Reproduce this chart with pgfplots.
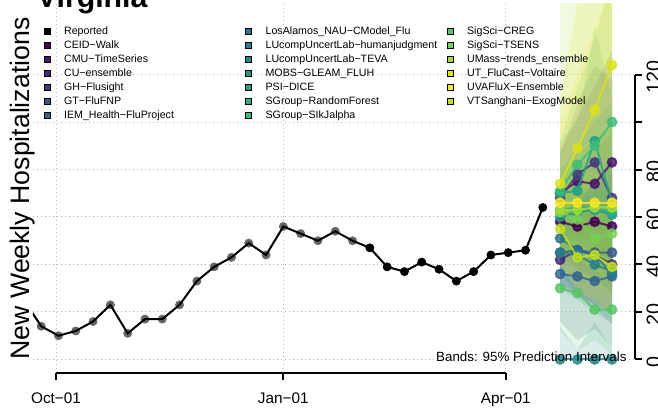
\documentclass[border=0pt]{standalone}
\usepackage{pgfplots}
\pgfplotsset{compat=1.18}
\usepackage{fontspec}
\setmainfont{Liberation Sans}

% viridis-like model colours
\definecolor{m1}{HTML}{440154}
\definecolor{m2}{HTML}{481568}
\definecolor{m3}{HTML}{482677}
\definecolor{m4}{HTML}{453781}
\definecolor{m5}{HTML}{39558C}
\definecolor{m6}{HTML}{32648E}
\definecolor{m7}{HTML}{2D718E}
\definecolor{m8}{HTML}{287D8E}
\definecolor{m9}{HTML}{238A8D}
\definecolor{m10}{HTML}{1F968B}
\definecolor{m11}{HTML}{20A386}
\definecolor{m12}{HTML}{29AF7F}
\definecolor{m13}{HTML}{3CBC75}
\definecolor{m14}{HTML}{56C667}
\definecolor{m15}{HTML}{75D054}
\definecolor{m16}{HTML}{A5DB36}
\definecolor{m17}{HTML}{DDE318}
\definecolor{m18}{HTML}{FDE725}
\definecolor{m19}{HTML}{C2DF23}

\newcommand{\fband}[2]{\addplot[draw=none,fill=#1,fill opacity=0.16,forget plot] coordinates {#2} --cycle;}
\newcommand{\fline}[2]{\addplot[#1,line width=1.5pt,opacity=0.8,mark=*,mark size=3.3pt,forget plot] coordinates {#2};}

\begin{document}
\begin{tikzpicture}
\begin{axis}[
  name=ax, at={(0,0)}, anchor=south west,
  scale only axis, width=451.5pt, height=276.75pt,
  xmin=-9.31, xmax=234.3, ymin=-5.7, ymax=149.7,
  clip mode=individual,
  axis line style={draw=none},
  /pgf/number format/assume math mode=true,
  xtick={0,92,182}, xticklabels={Oct−01,Jan−01,Apr−01},
  ytick={0,20,40,60,80,100,120}, yticklabels={0,20,40,60,80,{},120},
  xtick pos=left, ytick pos=right, yticklabel pos=right,
  tick align=outside, major tick length=5.25pt,
  major tick style={black, line width=1.5pt},
  xmajorgrids, ymajorgrids,
  grid style={gray!55, line width=0.75pt, dash pattern=on 0.75pt off 2.25pt},
  xticklabel style={font=\fontsize{11.5}{13}\selectfont, anchor=north, yshift=-6pt},
  yticklabel style={font=\fontsize{14.8}{16}\selectfont, rotate=90, anchor=north, xshift=-1.8pt},
  legend style={draw=none, fill=none, at={(0,1)}, anchor=north west,
    xshift=7.7pt, yshift=-16.6pt, font=\fontsize{8}{9.6}\selectfont,
    row sep=3pt, column sep=0pt, inner sep=0pt,
    nodes={inner sep=0pt, text width=135.75pt, align=left, text height=5.8pt, text depth=1.7pt}},
  legend cell align=left, transpose legend, legend columns=7,
  legend image code/.code={\fill[#1] (0pt,-2.25pt) rectangle (4.5pt,2.25pt); \path (15pt,0pt);},
]
% reported
\addplot[only marks, mark=*, mark size=3.1pt, black!60, forget plot] coordinates {
(-13,25) (-6,14) (1,10) (8,12) (15,16) (22,23) (29,11) (36,17) (43,17) (50,23)
(57,33) (64,39) (71,43) (78,49) (85,44) (92,56) (99,53) (106,50) (113,54) (120,50)};
\addplot[black, line width=1.5pt, forget plot] coordinates {
(-13,25) (-6,14) (1,10) (8,12) (15,16) (22,23) (29,11) (36,17) (43,17) (50,23)
(57,33) (64,39) (71,43) (78,49) (85,44) (92,56) (99,53) (106,50) (113,54) (120,50)
(127,47) (134,39) (141,37) (148,41) (155,38) (162,33) (169,37) (176,44) (183,45) (190,46) (197,64)};
\addplot[only marks, mark=*, mark size=3.1pt, black, forget plot] coordinates {
(127,47) (134,39) (141,37) (148,41) (155,38) (162,33) (169,37) (176,44) (183,45) (190,46) (197,64)};

% 95% prediction bands
\fband{m1}{(204,44) (211,38) (218,34) (225,28) (225,95) (218,88) (211,80) (204,74)}
\fband{m2}{(204,54) (211,50) (218,45) (225,42) (225,130) (218,115) (211,102) (204,88)}
\fband{m3}{(204,30) (211,27) (218,23) (225,19) (225,78) (218,72) (211,66) (204,56)}
\fband{m4}{(204,52) (211,52) (218,50) (225,36) (225,118) (218,124) (211,108) (204,86)}
\fband{m5}{(204,32) (211,28) (218,24) (225,20) (225,82) (218,74) (211,68) (204,60)}
\fband{m6}{(204,16) (211,8) (218,13) (225,5) (225,70) (218,62) (211,60) (204,54)}
\fband{m7}{(204,36) (211,28) (218,22) (225,15) (225,72) (218,74) (211,70) (204,68)}
\fband{m8}{(204,30) (211,25) (218,20) (225,15) (225,72) (218,70) (211,68) (204,62)}
\fband{m9}{(204,0) (211,0) (218,0) (225,0) (225,4) (218,16) (211,4) (204,14)}
\fband{m10}{(204,45) (211,40) (218,36) (225,30) (225,108) (218,100) (211,90) (204,78)}
\fband{m11}{(204,52) (211,48) (218,55) (225,38) (225,110) (218,140) (211,100) (204,92)}
\fband{m12}{(204,48) (211,44) (218,40) (225,35) (225,98) (218,92) (211,86) (204,80)}
\fband{m13}{(204,55) (211,60) (218,62) (225,65) (225,160) (218,135) (211,115) (204,92)}
\fband{m14}{(204,12) (211,4) (218,8) (225,2) (225,66) (218,60) (211,58) (204,50)}
\fband{m15}{(204,45) (211,38) (218,30) (225,28) (225,84) (218,78) (211,82) (204,80)}
\fband{m16}{(204,48) (211,42) (218,38) (225,32) (225,205) (218,190) (211,175) (204,160)}
\fband{m17}{(204,58) (211,66) (218,75) (225,85) (225,210) (218,180) (211,150) (204,110)}
\fband{m18}{(204,40) (211,30) (218,24) (225,18) (225,160) (218,140) (211,120) (204,100)}
\fband{m19}{(204,40) (211,28) (218,25) (225,20) (225,62) (218,66) (211,62) (204,72)}

% forecast medians
\fline{m1}{(204,58) (211,56) (218,58) (225,56)}
\fline{m2}{(204,70) (211,75) (218,74) (225,83)}
\fline{m3}{(204,42) (211,46) (218,44) (225,40)}
\fline{m4}{(204,68) (211,78) (218,83) (225,68)}
\fline{m5}{(204,45) (211,46) (218,45) (225,45)}
\fline{m6}{(204,36) (211,35) (218,33) (225,35)}
\fline{m7}{(204,51) (211,46) (218,44) (225,36)}
\fline{m8}{(204,45) (211,44) (218,40) (225,37)}
\fline{m9}{(204,0) (211,0) (218,0) (225,0)}
\fline{m10}{(204,60) (211,62) (218,63) (225,61)}
\fline{m11}{(204,70) (211,71) (218,92) (225,66)}
\fline{m12}{(204,63) (211,64) (218,64) (225,62)}
\fline{m13}{(204,71) (211,82) (218,90) (225,100)}
\fline{m14}{(204,30) (211,28) (218,21) (225,21)}
\fline{m15}{(204,62) (211,59) (218,51) (225,53)}
\fline{m16}{(204,63) (211,63) (218,64) (225,64)}
\fline{m17}{(204,74) (211,89) (218,105) (225,124)}
\fline{m18}{(204,66) (211,66) (218,66) (225,66)}
\fline{m19}{(204,55) (211,43) (218,44) (225,39)}

% legend
\addlegendimage{fill=black}\addlegendentry{Reported}
\addlegendimage{fill=m1}\addlegendentry{CEID−Walk}
\addlegendimage{fill=m2}\addlegendentry{CMU−TimeSeries}
\addlegendimage{fill=m3}\addlegendentry{CU−ensemble}
\addlegendimage{fill=m4}\addlegendentry{GH−Flusight}
\addlegendimage{fill=m5}\addlegendentry{GT−FluFNP}
\addlegendimage{fill=m6}\addlegendentry{IEM\_Health−FluProject}
\addlegendimage{fill=m7}\addlegendentry{LosAlamos\_NAU−CModel\_Flu}
\addlegendimage{fill=m8}\addlegendentry{LUcompUncertLab−humanjudgment}
\addlegendimage{fill=m9}\addlegendentry{LUcompUncertLab−TEVA}
\addlegendimage{fill=m10}\addlegendentry{MOBS−GLEAM\_FLUH}
\addlegendimage{fill=m11}\addlegendentry{PSI−DICE}
\addlegendimage{fill=m12}\addlegendentry{SGroup−RandomForest}
\addlegendimage{fill=m13}\addlegendentry{SGroup−SIkJalpha}
\addlegendimage{fill=m14}\addlegendentry{SigSci−CREG}
\addlegendimage{fill=m15}\addlegendentry{SigSci−TSENS}
\addlegendimage{fill=m16}\addlegendentry{UMass−trends\_ensemble}
\addlegendimage{fill=m17}\addlegendentry{UT\_FluCast−Voltaire}
\addlegendimage{fill=m18}\addlegendentry{UVAFluX−Ensemble}
\addlegendimage{fill=m19}\addlegendentry{VTSanghani−ExogModel}

% axis lines, title, labels
\draw[line width=1.5pt] (axis cs:0,-5.7) -- (axis cs:182,-5.7);
\draw[line width=1.5pt] (axis cs:234.3,0) -- (axis cs:234.3,120);
\node[anchor=base west, inner sep=0pt, font=\fontsize{22.7}{26}\selectfont\bfseries]
  at ([xshift=2.8pt,yshift=-3pt]rel axis cs:0,1) {Virginia};
\node[anchor=base, rotate=90, inner sep=0pt, font=\fontsize{20}{24}\selectfont]
  at ([xshift=-2.85pt]rel axis cs:0,0.5) {New Weekly Hospitalizations};
\node[anchor=base east, inner sep=0pt, font=\fontsize{10}{12}\selectfont]
  at ([xshift=-6.2pt,yshift=8.6pt]rel axis cs:1,0) {Bands: 95\% Prediction Intervals};
\end{axis}
\pgfresetboundingbox
\path[use as bounding box] ([shift={(-24.75pt,-28.5pt)}]ax.south west) rectangle ([shift={(468.75pt,279.75pt)}]ax.south west);
\end{tikzpicture}
\end{document}
